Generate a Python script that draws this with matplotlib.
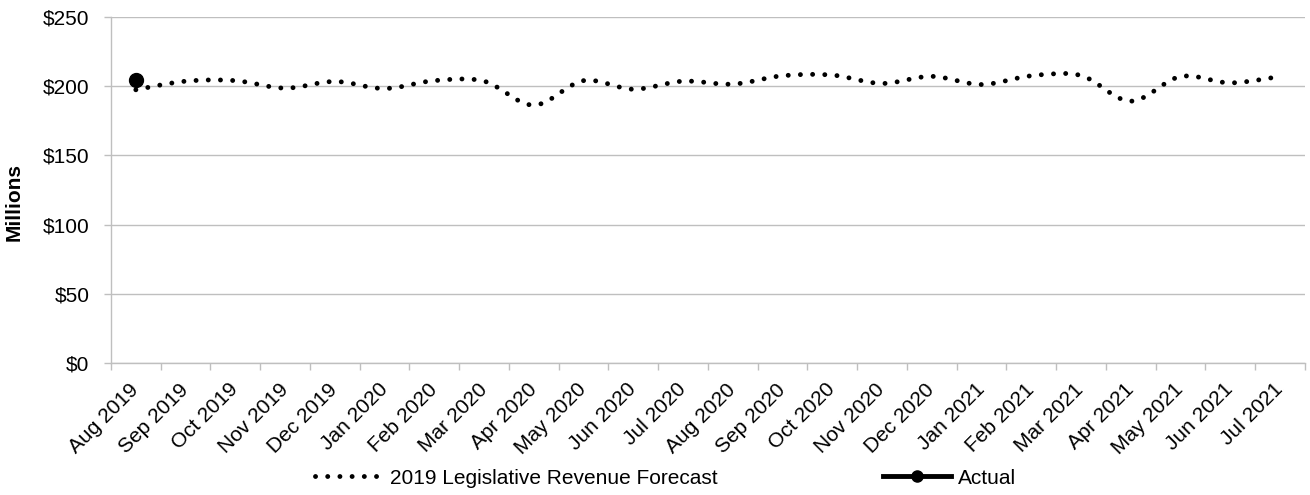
import matplotlib
matplotlib.use("Agg")
import matplotlib.pyplot as plt
from matplotlib.path import Path
from matplotlib.patches import PathPatch
from matplotlib.lines import Line2D

plt.rcParams['font.family'] = ['Liberation Sans', 'DejaVu Sans']

# Datos (millones de dólares)
months = ['Aug 2019', 'Sep 2019', 'Oct 2019', 'Nov 2019', 'Dec 2019', 'Jan 2020',
          'Feb 2020', 'Mar 2020', 'Apr 2020', 'May 2020', 'Jun 2020', 'Jul 2020',
          'Aug 2020', 'Sep 2020', 'Oct 2020', 'Nov 2020', 'Dec 2020', 'Jan 2021',
          'Feb 2021', 'Mar 2021', 'Apr 2021', 'May 2021', 'Jun 2021', 'Jul 2021']
forecast = [197.4, 203.6, 204.0, 198.6, 203.4, 198.3, 204.0, 203.6, 186.3, 204.0,
            197.8, 203.6, 201.5, 207.5, 208.0, 202.0, 207.1, 201.2, 207.5, 207.7,
            189.2, 207.0, 202.4, 207.0]
actual = [204.8]

GRID = '#BFBFBF'
DOTS = (0, (0.01, 2.5))
FS = 15


# Curva suavizada tipo Excel (Bezier cúbica a partir de los puntos)
def smooth_path(ys):
    pts = list(enumerate(ys))
    verts = [pts[0]]
    codes = [Path.MOVETO]
    n = len(pts)
    for i in range(n - 1):
        p0 = pts[i - 1] if i > 0 else pts[i]
        p1 = pts[i]
        p2 = pts[i + 1]
        p3 = pts[i + 2] if i + 2 < n else pts[i + 1]
        c1 = (p1[0] + (p2[0] - p0[0]) / 6, p1[1] + (p2[1] - p0[1]) / 6)
        c2 = (p2[0] - (p3[0] - p1[0]) / 6, p2[1] - (p3[1] - p1[1]) / 6)
        verts += [c1, c2, p2]
        codes += [Path.CURVE4] * 3
    return Path(verts, codes)


fig = plt.figure(figsize=(13.1, 4.95), dpi=100)
ax = fig.add_axes([0.0847, 0.2667, 0.9113, 0.699])

patch = PathPatch(smooth_path(forecast), fill=False, edgecolor='black',
                  linewidth=3.5, linestyle=DOTS, capstyle='round', zorder=3)
ax.add_patch(patch)

ax.plot(range(len(actual)), actual, color='black', lw=3.5, marker='o',
        markersize=10, zorder=4)

ax.set_xlim(-0.5, len(months) - 0.5)
ax.set_ylim(0, 250)
ax.set_yticks(range(0, 251, 50))
ax.set_yticklabels(['$' + str(v) for v in range(0, 251, 50)])
ax.yaxis.grid(True, color=GRID, lw=1)
ax.set_axisbelow(True)

ax.set_xticks([i - 0.5 for i in range(len(months) + 1)])
ax.set_xticklabels([])
ax.set_xticks(range(len(months)), minor=True)
ax.set_xticklabels(months, minor=True, rotation=45, ha='right',
                   rotation_mode='anchor', va='center')
ax.tick_params(axis='x', which='major', length=5, color=GRID, width=1)
ax.tick_params(axis='x', which='minor', length=0, pad=17, labelsize=FS)
ax.tick_params(axis='y', length=5, color=GRID, width=1, labelsize=FS, pad=10.5)

for s in ['top', 'right']:
    ax.spines[s].set_visible(False)
for s in ['left', 'bottom']:
    ax.spines[s].set_color(GRID)
    ax.spines[s].set_linewidth(1)

ax.set_ylabel('Millions', fontsize=FS, fontweight='bold')
ax.yaxis.set_label_coords(-0.0729, 0.465)

handles = [
    Line2D([], [], color='black', lw=3.5, linestyle=DOTS, dash_capstyle='round'),
    Line2D([], [], color='black', lw=3.5, marker='o', markersize=8),
]
fig.legend(handles, ['2019 Legislative Revenue Forecast', 'Actual'],
           loc='lower center', bbox_to_anchor=(0.508, -0.023), ncol=2,
           frameon=False, fontsize=FS, handlelength=3.3, handletextpad=0.3,
           columnspacing=7.9)

fig.savefig('out.png', dpi=100)
